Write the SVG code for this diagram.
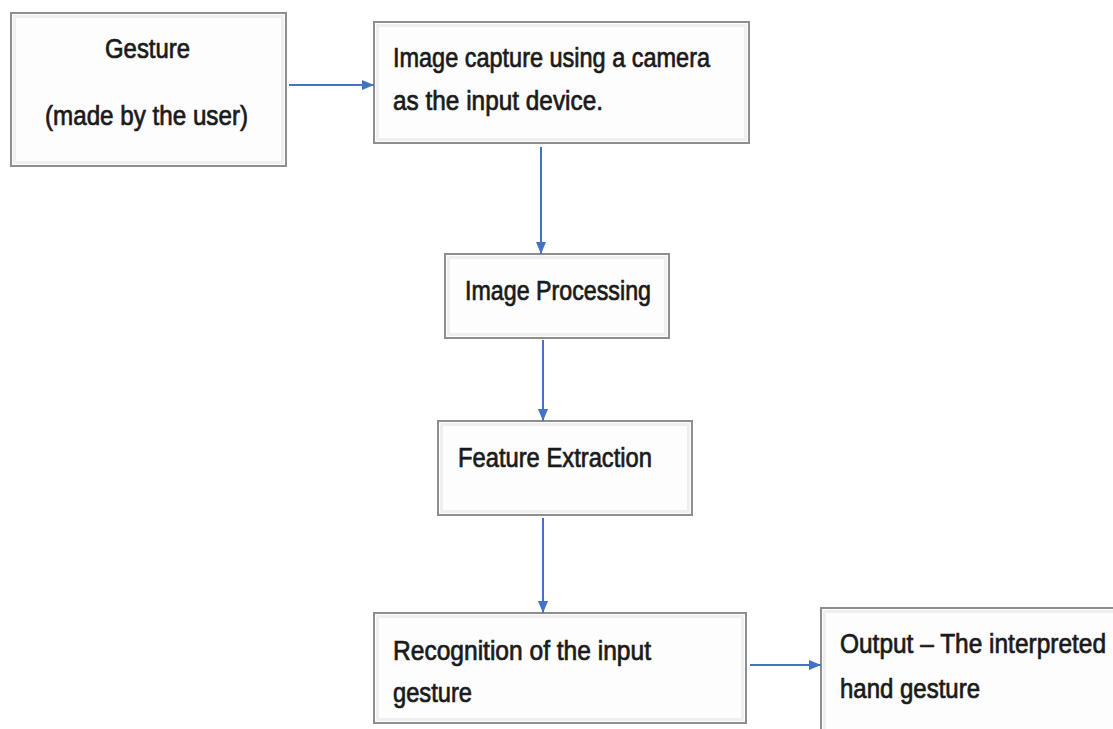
<svg xmlns="http://www.w3.org/2000/svg" width="1113" height="729" viewBox="0 0 1113 729">
<style>
.box{fill:#fdfdfd;stroke:#8e8e8e;stroke-width:2}
.bev{fill:none;stroke:#efefef;stroke-width:3}
.t{font-family:"Liberation Sans",Arial,sans-serif;font-size:27px;fill:#1a1a1a;stroke:#1a1a1a;stroke-width:0.7}
.c{fill:none;stroke:#4472c4;stroke-width:2;marker-end:url(#ah)}
</style>
<defs>
<marker id="ah" viewBox="0 0 12 10" refX="12" refY="5" markerWidth="12" markerHeight="10" markerUnits="userSpaceOnUse" orient="auto">
<path d="M0,0 L12,5 L0,10 Z" fill="#4472c4"/>
</marker>
</defs>
<rect width="1113" height="729" fill="#ffffff"/>
<g id="n1">
<rect class="box" x="11" y="13" width="275" height="153"/>
<rect class="bev" x="14.5" y="16.5" width="268" height="146"/>
<text class="t" x="105" y="58" textLength="85" lengthAdjust="spacingAndGlyphs">Gesture</text>
<text class="t" x="45" y="125" textLength="203" lengthAdjust="spacingAndGlyphs">(made by the user)</text>
</g>
<g id="n2">
<rect class="box" x="374" y="22" width="375" height="121"/>
<rect class="bev" x="377.5" y="25.5" width="368" height="114"/>
<text class="t" x="393" y="67" textLength="317" lengthAdjust="spacingAndGlyphs">Image capture using a camera</text>
<text class="t" x="393" y="110" textLength="210" lengthAdjust="spacingAndGlyphs">as the input device.</text>
</g>
<g id="n3">
<rect class="box" x="445" y="254" width="224" height="84"/>
<rect class="bev" x="448.5" y="257.5" width="217" height="77"/>
<text class="t" x="465" y="300" textLength="186" lengthAdjust="spacingAndGlyphs">Image Processing</text>
</g>
<g id="n4">
<rect class="box" x="438" y="421" width="254" height="94"/>
<rect class="bev" x="441.5" y="424.5" width="247" height="87"/>
<text class="t" x="458" y="467" textLength="194" lengthAdjust="spacingAndGlyphs">Feature Extraction</text>
</g>
<g id="n5">
<rect class="box" x="374" y="613" width="372" height="110"/>
<rect class="bev" x="377.5" y="616.5" width="365" height="103"/>
<text class="t" x="393" y="660" textLength="258" lengthAdjust="spacingAndGlyphs">Recognition of the input</text>
<text class="t" x="393" y="702" textLength="79" lengthAdjust="spacingAndGlyphs">gesture</text>
</g>
<g id="n6">
<rect class="box" x="821" y="608" width="300" height="130"/>
<rect class="bev" x="824.5" y="611.5" width="293" height="123"/>
<text class="t" x="840" y="653" textLength="266" lengthAdjust="spacingAndGlyphs">Output – The interpreted</text>
<text class="t" x="840" y="698" textLength="140" lengthAdjust="spacingAndGlyphs">hand gesture</text>
</g>
<g id="connectors">
<line class="c" x1="289" y1="85" x2="374" y2="85"/>
<line class="c" x1="541" y1="147" x2="541" y2="254"/>
<line class="c" x1="543" y1="340" x2="543" y2="421"/>
<line class="c" x1="543" y1="518" x2="543" y2="613"/>
<line class="c" x1="750" y1="665" x2="821" y2="665"/>
</g>
</svg>
